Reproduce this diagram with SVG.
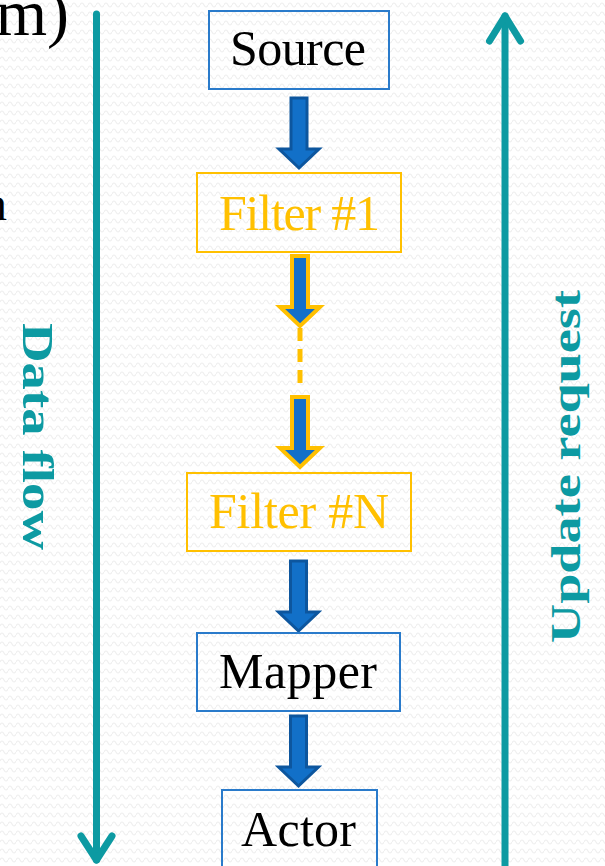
<svg xmlns="http://www.w3.org/2000/svg" width="605" height="866" viewBox="0 0 605 866">
  <defs>
    <pattern id="bg" width="8" height="9" patternUnits="userSpaceOnUse">
      <path d="M0 5 Q2 1 4 5 T8 5" fill="none" stroke="#efefef" stroke-width="1.2"/>
    </pattern>
    <path id="blk" d="M -8 0 H 8 V 51 H 20 L 0 70 L -20 51 H -8 Z"/>
  </defs>
  <style>
    .box { fill: none; stroke-width: 2; }
    .blue { stroke: #2A7BCB; }
    .orange { stroke: #FFC000; }
    .lbl { font-family: "Liberation Serif", "Times New Roman", serif; font-size: 50px; text-anchor: middle; }
    .dark { fill: #000000; }
    .otxt { fill: #FFC000; }
    .teal { stroke: #0D9AA2; stroke-width: 7; fill: none; stroke-linecap: round; stroke-linejoin: round; }
    .side { font-family: "Liberation Serif", "Times New Roman", serif; font-weight: bold; fill: #0D9AA2; }
    .arrB { fill: #1270C8; stroke: #0D569E; stroke-width: 3; }
    .arrO { fill: #1270C8; stroke: #FFC000; stroke-width: 4; }
  </style>

  <rect x="0" y="0" width="605" height="866" fill="#ffffff"/>
  <rect x="0" y="0" width="605" height="866" fill="url(#bg)"/>

  <!-- slide text clipped at the left edge, as in the picture -->
  <text x="69" y="35" font-family="Liberation Serif, serif" font-size="66" text-anchor="end" fill="#000">m)</text>
  <text x="7" y="220" font-family="Liberation Serif, serif" font-size="48" text-anchor="end" fill="#000">n</text>

  <g id="connectors">
    <path class="teal" d="M 96.5 14 V 860"/>
    <path class="teal" d="M 81 836 L 96.5 860 L 112 836"/>
    <path class="teal" d="M 505 866 V 16"/>
    <path class="teal" d="M 489.5 41 L 505 16 L 520.5 41"/>
    <use href="#blk" class="arrB" transform="translate(299,98)"/>
    <use href="#blk" class="arrO" transform="translate(300,256)"/>
    <line x1="300" y1="328" x2="300" y2="389" stroke="#FFC000" stroke-width="5" stroke-dasharray="13 8"/>
    <use href="#blk" class="arrO" transform="translate(300,397)"/>
    <use href="#blk" class="arrB" transform="translate(298.5,561)"/>
    <use href="#blk" class="arrB" transform="translate(298.5,716)"/>
  </g>

  <g id="source">
    <rect class="box blue" x="209" y="11" width="180" height="78"/>
    <text class="lbl dark" x="298" y="65" textLength="136">Source</text>
  </g>
  <g id="filter1">
    <rect class="box orange" x="197" y="173" width="204" height="79"/>
    <text class="lbl otxt" x="299.5" y="230" textLength="161">Filter #1</text>
  </g>
  <g id="filterN">
    <rect class="box orange" x="187" y="473" width="224" height="78"/>
    <text class="lbl otxt" x="299" y="528" textLength="180">Filter #N</text>
  </g>
  <g id="mapper">
    <rect class="box blue" x="197" y="633" width="203" height="78"/>
    <text class="lbl dark" x="298" y="688" textLength="158">Mapper</text>
  </g>
  <g id="actor">
    <rect class="box blue" x="222" y="790" width="155" height="100"/>
    <text class="lbl dark" x="298.5" y="846" textLength="115">Actor</text>
  </g>

  <g id="data-flow-label">
    <text class="side" font-size="45" transform="translate(23,323) rotate(90)" textLength="227" lengthAdjust="spacingAndGlyphs">Data flow</text>
  </g>
  <g id="update-request-label">
    <text class="side" font-size="42" transform="translate(580,643) rotate(-90)" textLength="353" lengthAdjust="spacingAndGlyphs">Update request</text>
  </g>
</svg>
